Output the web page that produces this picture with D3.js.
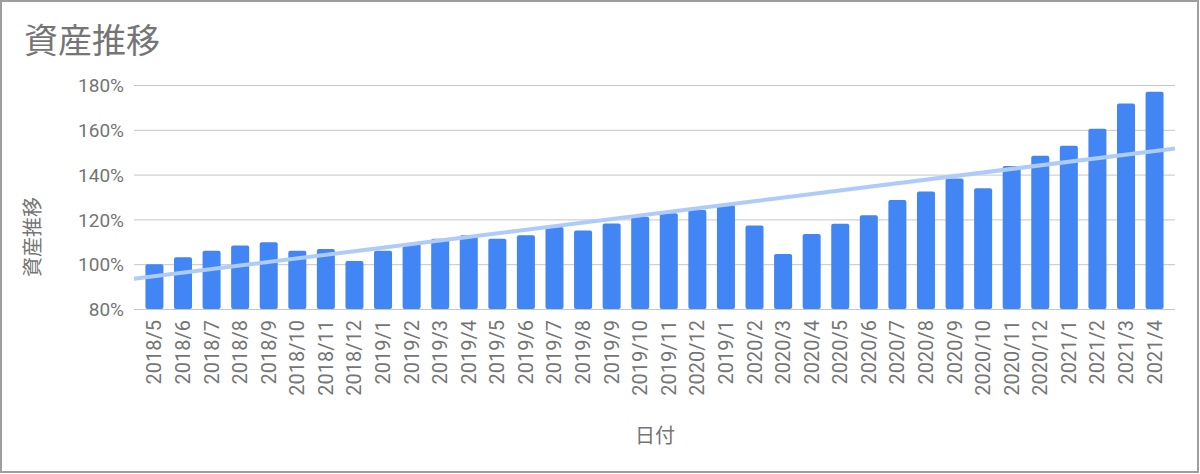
<!DOCTYPE html>
<html>
<head>
<meta charset="utf-8">
<script src="https://cdn.jsdelivr.net/npm/d3@7"></script>
<style>
  html, body { margin: 0; padding: 0; background: #fff; }
  svg text { font-family: Roboto, "Noto Sans CJK JP", sans-serif; fill: #757575; }
</style>
</head>
<body>
<div id="chart"></div>
<script>
// ── data ───────────────────────────────────────────────
const MONTHS = [
  "2018/5", "2018/6", "2018/7", "2018/8", "2018/9", "2018/10", "2018/11", "2018/12",
  "2019/1", "2019/2", "2019/3", "2019/4", "2019/5", "2019/6", "2019/7", "2019/8",
  "2019/9", "2019/10", "2019/11", "2020/12", "2019/1", "2020/2", "2020/3", "2020/4",
  "2020/5", "2020/6", "2020/7", "2020/8", "2020/9", "2020/10", "2020/11", "2020/12",
  "2021/1", "2021/2", "2021/3", "2021/4"
];
const ASSET_PCT = [
  100.0, 103.1, 106.0, 108.3, 109.8, 106.0, 106.8, 101.4,
  106.0, 109.2, 111.4, 112.9, 111.4, 112.9, 116.6, 115.1,
  118.2, 121.2, 122.7, 124.2, 126.4, 117.3, 104.6, 113.5,
  118.1, 121.8, 128.7, 132.4, 138.3, 133.9, 143.8, 148.4,
  152.9, 160.5, 171.7, 177.0
];
const Y_TICKS = [80, 100, 120, 140, 160, 180];

const TITLE   = "資産推移";
const Y_TITLE = "資産推移";
const X_TITLE = "日付";

// ── layout ─────────────────────────────────────────────
const W = 1200, H = 474;
const PLOT = { left: 134, right: 1175, top: 85, bottom: 309 };
const BAR_COLOUR   = "#4285f4";
const TREND_COLOUR = "#aecbfa";
const TEXT_COLOUR  = "#757575";

const svg = d3.select("#chart").append("svg")
  .attr("width", W).attr("height", H);

// frame
svg.append("rect")
  .attr("x", 1).attr("y", 1).attr("width", W - 3).attr("height", H - 3)
  .attr("fill", "#fff").attr("stroke", "#9e9e9e").attr("stroke-width", 2);

// scales
const x = d3.scaleBand()
  .domain(d3.range(MONTHS.length))
  .range([PLOT.left, PLOT.right])
  .paddingInner(0.37)
  .paddingOuter(0.4);

const y = d3.scaleLinear()
  .domain([80, 180])
  .range([PLOT.bottom, PLOT.top]);

// gridlines
svg.append("g")
  .attr("transform", `translate(${PLOT.left},0)`)
  .call(d3.axisLeft(y).tickValues(Y_TICKS).tickSize(-(PLOT.right - PLOT.left)).tickFormat(""))
  .call(g => g.select(".domain").remove())
  .call(g => g.selectAll("line").attr("stroke", "#c6c6c6").attr("stroke-width", 1));

// y tick labels
svg.append("g")
  .attr("transform", `translate(${PLOT.left - 10},0)`)
  .call(d3.axisLeft(y).tickValues(Y_TICKS).tickSize(0).tickPadding(0).tickFormat(d => d + "%"))
  .call(g => g.select(".domain").remove())
  .call(g => g.selectAll("text")
    .attr("font-size", 19).attr("fill", TEXT_COLOUR).attr("dy", "0.35em"));

// bars
svg.append("g").selectAll("rect")
  .data(ASSET_PCT)
  .join("rect")
  .attr("x", (d, i) => x(i))
  .attr("width", x.bandwidth())
  .attr("y", d => y(d))
  .attr("height", d => y(80) - y(d))
  .attr("rx", 2)
  .attr("fill", BAR_COLOUR);

// linear trendline (least squares over the bar values)
const n = ASSET_PCT.length;
const xm = d3.mean(d3.range(n));
const ym = d3.mean(ASSET_PCT);
const slope = d3.sum(ASSET_PCT, (v, i) => (i - xm) * (v - ym)) /
              d3.sum(d3.range(n), i => (i - xm) * (i - xm));
const icpt = ym - slope * xm;
const idxAt = px => (px - (x(0) + x.bandwidth() / 2)) / x.step();

svg.append("line")
  .attr("x1", PLOT.left).attr("y1", y(icpt + slope * idxAt(PLOT.left)))
  .attr("x2", PLOT.right).attr("y2", y(icpt + slope * idxAt(PLOT.right)))
  .attr("stroke", TREND_COLOUR).attr("stroke-width", 4);

// x tick labels (rotated)
svg.append("g").selectAll("text")
  .data(MONTHS)
  .join("text")
  .attr("transform", (d, i) => `translate(${x(i) + x.bandwidth() / 2},${PLOT.bottom + 11}) rotate(-90)`)
  .attr("text-anchor", "end")
  .attr("dy", "0.35em")
  .attr("font-size", 20)
  .attr("fill", TEXT_COLOUR)
  .text(d => d);

// titles
svg.append("text")
  .attr("x", 24).attr("y", 53)
  .attr("font-size", 34).attr("fill", TEXT_COLOUR)
  .text(TITLE);

svg.append("text")
  .attr("transform", "translate(33,237) rotate(-90)")
  .attr("text-anchor", "middle").attr("dy", "0.35em")
  .attr("font-size", 20).attr("fill", TEXT_COLOUR)
  .text(Y_TITLE);

svg.append("text")
  .attr("x", 655).attr("y", 443)
  .attr("text-anchor", "middle")
  .attr("font-size", 20).attr("fill", TEXT_COLOUR)
  .text(X_TITLE);
</script>
</body>
</html>
